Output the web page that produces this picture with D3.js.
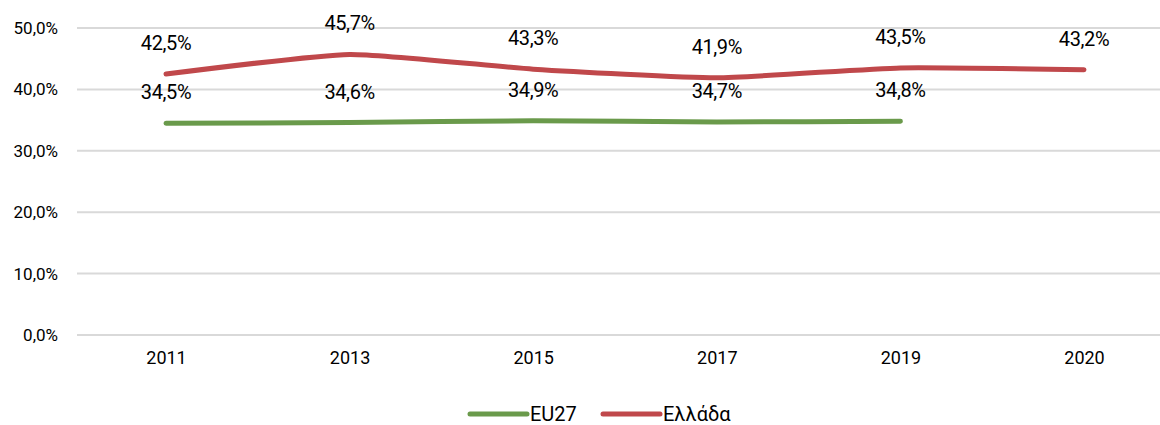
<!DOCTYPE html>
<html>
<head>
<meta charset="utf-8">
<script src="https://cdn.jsdelivr.net/npm/d3@7"></script>
<style>
  html, body { margin: 0; padding: 0; background: #fff; }
  svg { display: block; font-family: Roboto, "Noto Sans", sans-serif; }
</style>
</head>
<body>
<svg id="chart" width="1160" height="425"></svg>
<script>
const years = ["2011", "2013", "2015", "2017", "2019", "2020"];
const eu27 = [34.5, 34.6, 34.9, 34.7, 34.8, null];
const greece = [42.5, 45.7, 43.3, 41.9, 43.5, 43.2];
const yTicks = [0, 10, 20, 30, 40, 50];
const seriesNames = ["EU27", "Ελλάδα"];
const colors = ["#6A9A4B", "#C0484B"];

const svg = d3.select("#chart");
const x = d3.scalePoint().domain(years).range([166, 1084]);
const y = d3.scaleLinear().domain([0, 50]).range([335, 28]);
const fmt = v => v.toFixed(1).replace(".", ",") + "%";

// gridlines
svg.append("g").selectAll("line").data(yTicks).join("line")
  .attr("x1", 77).attr("x2", 1160)
  .attr("y1", d => y(d)).attr("y2", d => y(d))
  .attr("stroke", "#d9d9d9").attr("stroke-width", 2);

const yAxis = d3.axisLeft(y).tickValues(yTicks).tickSize(0).tickPadding(0).tickFormat(fmt);
const ga = svg.append("g").attr("transform", "translate(58,0)").call(yAxis);
ga.select(".domain").remove();
ga.selectAll("text").attr("font-size", 17).attr("fill", "#000")
  .attr("font-family", "Roboto, sans-serif");

const xAxis = d3.axisBottom(x).tickSize(0).tickPadding(0);
const gx = svg.append("g").attr("transform", "translate(0,351)").call(xAxis);
gx.select(".domain").remove();
gx.selectAll("text").attr("font-size", 18).attr("fill", "#000").attr("dy", "0.71em")
  .attr("font-family", "Roboto, sans-serif");

const series = [eu27, greece];
const line = d3.line()
  .defined(d => d.v != null)
  .x(d => x(d.year)).y(d => y(d.v))
  .curve(d3.curveCardinal.tension(0.5));

series.forEach((vals, i) => {
  const pts = years.map((yr, j) => ({ year: yr, v: vals[j] }));
  svg.append("path").datum(pts)
    .attr("d", line)
    .attr("fill", "none")
    .attr("stroke", colors[i])
    .attr("stroke-width", 5)
    .attr("stroke-linecap", "round")
    .attr("stroke-linejoin", "round");
  svg.append("g").selectAll("text").data(pts.filter(d => d.v != null)).join("text")
    .attr("x", d => x(d.year))
    .attr("y", d => y(d.v) - 24)
    .attr("text-anchor", "middle")
    .attr("font-size", 20)
    .attr("letter-spacing", -0.4)
    .attr("fill", "#000")
    .text(d => fmt(d.v));
});

// legend
const legend = svg.append("g");
const legX = [470, 603];
seriesNames.forEach((name, i) => {
  legend.append("line")
    .attr("x1", legX[i]).attr("x2", legX[i] + 57)
    .attr("y1", 414).attr("y2", 414)
    .attr("stroke", colors[i]).attr("stroke-width", 5)
    .attr("stroke-linecap", "round");
  legend.append("text")
    .attr("x", legX[i] + 60).attr("y", 421)
    .attr("font-size", 20).attr("fill", "#000")
    .text(name);
});
</script>
</body>
</html>
